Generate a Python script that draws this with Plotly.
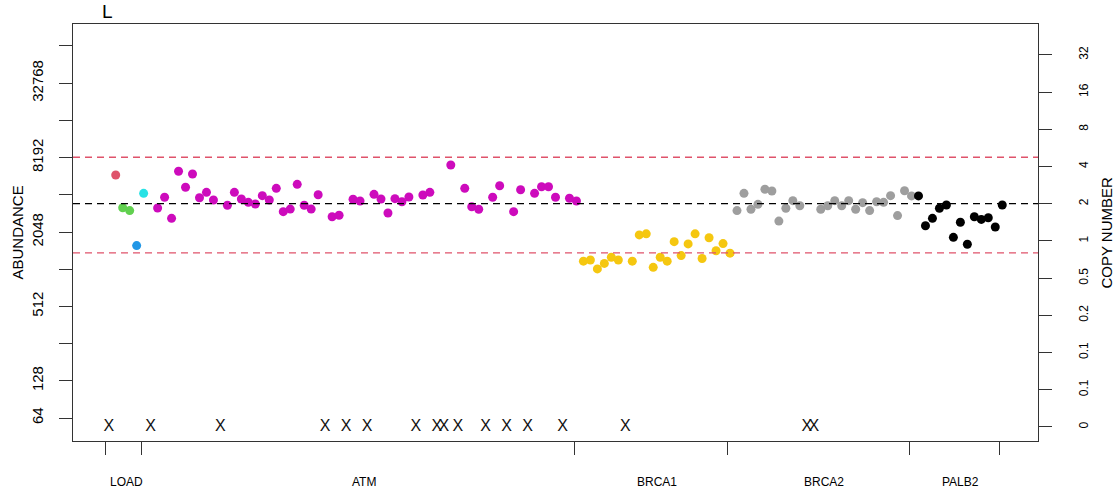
import math
import plotly.graph_objects as go

# ---- probe abundances per gene (None = probe not detected, drawn as "X") ----
GENES = ["LOAD", "ATM", "BRCA1", "BRCA2", "PALB2"]

LOAD_AB = [None, 5920, 3220, 3050, 1590, 4210]
LOAD_COL = ["#DF536B", "#DF536B", "#61D04F", "#61D04F", "#2297E6", "#28E2E5"]

ATM_AB = [None, 3200, 3910, 2640, 6350, 4710, 6030, 3880, 4290, 3720,
          None, 3370, 4290, 3790, 3560, 3450, 4030, 3720, 4620, 2990,
          3140, 4980, 3370, 3140, 4100, None, 2720, 2800, None, 3770,
          3650, None, 4130, 3790, 2920, 3810, 3600, 3930, None, 4080,
          4290, None, None, 7140, None, 4620, 3280, 3130, None, 3910,
          4850, None, 2990, 4500, None, 4210, 4760, 4760, 3910, None,
          3840, 3650]

BRCA1_AB = [1190, 1215, 1030, 1140, 1280, 1215, None, 1190, 1940, 1980,
            1060, 1280, 1190, 1710, 1320, 1640, 1980, 1250, 1840, 1445,
            1650, 1380]

BRCA2_AB = [3050, 4210, 3130, 3430, 4540, 4400, 2510, 3190, 3670, 3340,
            None, None, 3130, 3340, 3670, 3340, 3670, 3130, 3540, 3050,
            3600, 3560, 4030, 2780, 4420, 4010]

PALB2_AB = [4010, 2300, 2640, 3190, 3390, 1855, 2455, 1630, 2720, 2590,
            2670, 2250, 3390]

GROUP_AB = [LOAD_AB, ATM_AB, BRCA1_AB, BRCA2_AB, PALB2_AB]
GROUP_COL = [LOAD_COL, "#CD0BBC", "#F5C710", "#9E9E9E", "#000000"]

# abundance that corresponds to two copies, and the copy-number cut-offs
REF_ABUNDANCE = 3471
UPPER_CN = 4.75
LOWER_CN = 0.80
MISSING_CN = 2 ** -5

# axis tick labels
AB_TICKS = [2 ** k for k in range(6, 17)]
AB_LABELS = ["64", "128", "", "512", "", "2048", "", "8192", "", "32768", ""]
CN_TICKS = [2.0 ** k for k in range(-5, 6)]
CN_LABELS = [f"{round(v, 1):g}" for v in CN_TICKS]

FONT = "Liberation Sans, Arial, sans-serif"
INK = "#333333"

# ---- x positions: probes are numbered consecutively across genes ----
x_all, y_all, c_all, miss_x = [], [], [], []
bounds = []
idx = 1
for ab_list, col in zip(GROUP_AB, GROUP_COL):
    start = idx
    for k, v in enumerate(ab_list):
        if v is None:
            miss_x.append(idx)
        else:
            x_all.append(idx)
            y_all.append(v)
            c_all.append(col[k] if isinstance(col, list) else col)
        idx += 1
    bounds.append((start, idx - 1))
n_probes = idx - 1

pad = 0.04 * (n_probes - 1)
x_range = [1 - pad, n_probes + pad]

# vertical scale (log2 units of abundance)
y_lo_l2, y_hi_l2 = 5.382, 16.591
y_range = [y_lo_l2 * math.log10(2), y_hi_l2 * math.log10(2)]
shift = math.log10(2 / REF_ABUNDANCE)
y2_range = [y_range[0] + shift, y_range[1] + shift]

fig = go.Figure()

# reference and cut-off lines (copy number axis)
for val, color in [(2, "#000000"), (UPPER_CN, "#DF536B"), (LOWER_CN, "#DF536B")]:
    fig.add_trace(go.Scatter(
        x=x_range, y=[val, val], yaxis="y2", mode="lines",
        line=dict(color=color, width=1.3, dash="7px,5px"),
        hoverinfo="skip", showlegend=False))

# probe abundances
fig.add_trace(go.Scatter(
    x=x_all, y=y_all, mode="markers",
    marker=dict(color=c_all, size=9, line=dict(width=0)),
    showlegend=False, cliponaxis=False))

# undetected probes
fig.add_trace(go.Scatter(
    x=miss_x, y=[MISSING_CN] * len(miss_x), yaxis="y2", mode="text",
    text=["X"] * len(miss_x), textposition="middle center",
    textfont=dict(family=FONT, size=16, color="#111111"),
    showlegend=False, hoverinfo="skip"))

# gene tick marks at the group edges
tick_x = [bounds[0][0] - 0.4] + [b[1] - 0.35 for b in bounds]

annotations = [
    dict(text="L", x=(107 - 73) / 965, y=1.03, xref="paper", yref="paper",
         showarrow=False, font=dict(family=FONT, size=19, color="#000000"),
         xanchor="center", yanchor="middle"),
    dict(text="ABUNDANCE", x=-0.057, y=0.5, xref="paper", yref="paper",
         showarrow=False, textangle=-90,
         font=dict(family=FONT, size=15, color="#000000"),
         xanchor="center", yanchor="middle"),
    dict(text="COPY NUMBER", x=1.0705, y=0.5, xref="paper", yref="paper",
         showarrow=False, textangle=-90,
         font=dict(family=FONT, size=15, color="#000000"),
         xanchor="center", yanchor="middle"),
]
for name, (s, e) in zip(GENES, bounds):
    annotations.append(dict(
        text=name, x=(s + e) / 2, y=-0.0983, xref="x", yref="paper",
        showarrow=False, font=dict(family=FONT, size=12, color="#000000"),
        xanchor="center", yanchor="middle"))

fig.update_layout(
    width=1116, height=496,
    margin=dict(l=73, r=78, t=24, b=55),
    paper_bgcolor="white", plot_bgcolor="white",
    font=dict(family=FONT, color="#000000"),
    showlegend=False,
    xaxis=dict(range=x_range, showgrid=False, zeroline=False,
               showline=True, linecolor=INK, linewidth=1, mirror=True,
               tickvals=tick_x, ticktext=[""] * len(tick_x),
               ticks="outside", ticklen=13, tickcolor=INK, tickwidth=1),
    yaxis=dict(type="log", range=y_range, showgrid=False, zeroline=False,
               showline=True, linecolor=INK, linewidth=1, mirror=True,
               tickvals=AB_TICKS, ticktext=AB_LABELS,
               ticks="outside", ticklen=13, tickcolor=INK, tickwidth=1,
               tickangle=-90, tickfont=dict(family=FONT, size=15),
               ticklabelstandoff=10),
    yaxis2=dict(type="log", range=y2_range, overlaying="y", side="right",
                showgrid=False, zeroline=False,
                showline=True, linecolor=INK, linewidth=1,
                tickvals=CN_TICKS, ticktext=CN_LABELS,
                ticks="outside", ticklen=13, tickcolor=INK, tickwidth=1,
                tickangle=-90, tickfont=dict(family=FONT, size=12),
                ticklabelstandoff=22),
    annotations=annotations,
)

fig.write_html("out.html")
